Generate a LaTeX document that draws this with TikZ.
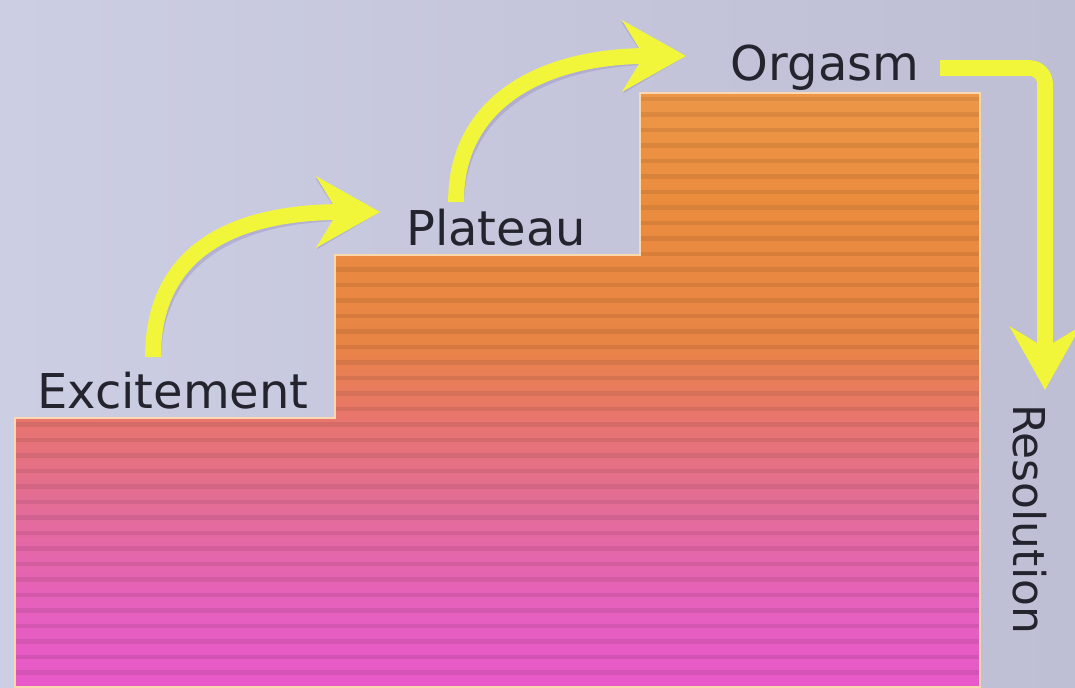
\documentclass[tikz,border=0pt]{standalone}
\usepackage{fontspec}
\setmainfont{DejaVu Sans}
\usetikzlibrary{arrows.meta,positioning}

\definecolor{bgleft}{RGB}{204,206,228}
\definecolor{bgright}{RGB}{190,190,212}
\definecolor{stairedge}{RGB}{250,216,176}
\definecolor{arrowyellow}{RGB}{242,246,58}
\definecolor{arrowshade}{RGB}{140,130,190}
\definecolor{labeltext}{RGB}{36,36,46}

% orange at the top, magenta at the bottom
\pgfdeclareverticalshading{stairfill}{100bp}{
    rgb(0bp)=(0.91,0.35,0.79);
    rgb(25bp)=(0.91,0.35,0.79);
    rgb(32bp)=(0.90,0.38,0.74);
    rgb(41bp)=(0.89,0.43,0.58);
    rgb(47.5bp)=(0.91,0.46,0.43);
    rgb(54bp)=(0.91,0.52,0.27);
    rgb(66bp)=(0.92,0.55,0.24);
    rgb(75bp)=(0.93,0.59,0.28);
    rgb(100bp)=(0.93,0.59,0.28)}

% outline of the three steps (pixel units)
\newcommand{\stairpath}{(15,687) -- (15,418) -- (335,418) -- (335,255) -- (640,255) -- (640,93) -- (980,93) -- (980,687) -- cycle}

\begin{document}
\begin{tikzpicture}[
    x=0.02cm, y=-0.02cm,
    stage/.style={
        font=\fontsize{27.3}{30}\selectfont,
        text=labeltext,
        inner sep=0pt,
        anchor=base
    },
    flow/.style={
        draw=arrowyellow,
        line width=9pt,
        -{Stealth[length=36pt,width=40pt,inset=12pt]}
    },
    flowshade/.style={
        flow,
        draw=arrowshade,
        opacity=.35
    },
    stripe/.style={draw=black, opacity=.08, line width=2.4pt}
    ]

    % background
    \fill[left color=bgleft, right color=bgright] (0,0) rectangle (1075,687);
    \useasboundingbox (0,0) rectangle (1075,687);

    % steps
    \fill[shading=stairfill] \stairpath;
    \begin{scope}
        \clip \stairpath;
        \foreach \y in {99,114.5,...,690}
            \draw[stripe] (15,\y) -- (980,\y);
    \end{scope}
    \draw[stairedge, line width=1.6pt] \stairpath;

    % stage labels
    \node[stage] (exc) at (173,408) {Excitement};
    \node[stage] (pla) at (496,245) {Plateau};
    \node[stage] (org) at (825,80) {Orgasm};
    \node[stage, font=\fontsize{25}{28}\selectfont, rotate=-90, anchor=base west] (res) at (1013,404) {Resolution};

    % arrow ends
    \coordinate (a1) at (153,357);
    \coordinate (b1) at (380,212);
    \coordinate (a2) at (456,202);
    \coordinate (b2) at (686,56);
    \coordinate (a3) at (940,68);
    \coordinate (b3) at (1045,390);

    \begin{scope}[xshift=2pt, yshift=-2pt]
        \draw[flowshade] (a1) .. controls (153,250) and (235,212) .. (b1);
        \draw[flowshade] (a2) .. controls (456,100) and (545,56) .. (b2);
        \draw[flowshade, rounded corners=9pt] (a3) -| (b3);
    \end{scope}
    \draw[flow] (a1) .. controls (153,250) and (235,212) .. (b1);
    \draw[flow] (a2) .. controls (456,100) and (545,56) .. (b2);
    \draw[flow, rounded corners=9pt] (a3) -| (b3);
\end{tikzpicture}
\end{document}
